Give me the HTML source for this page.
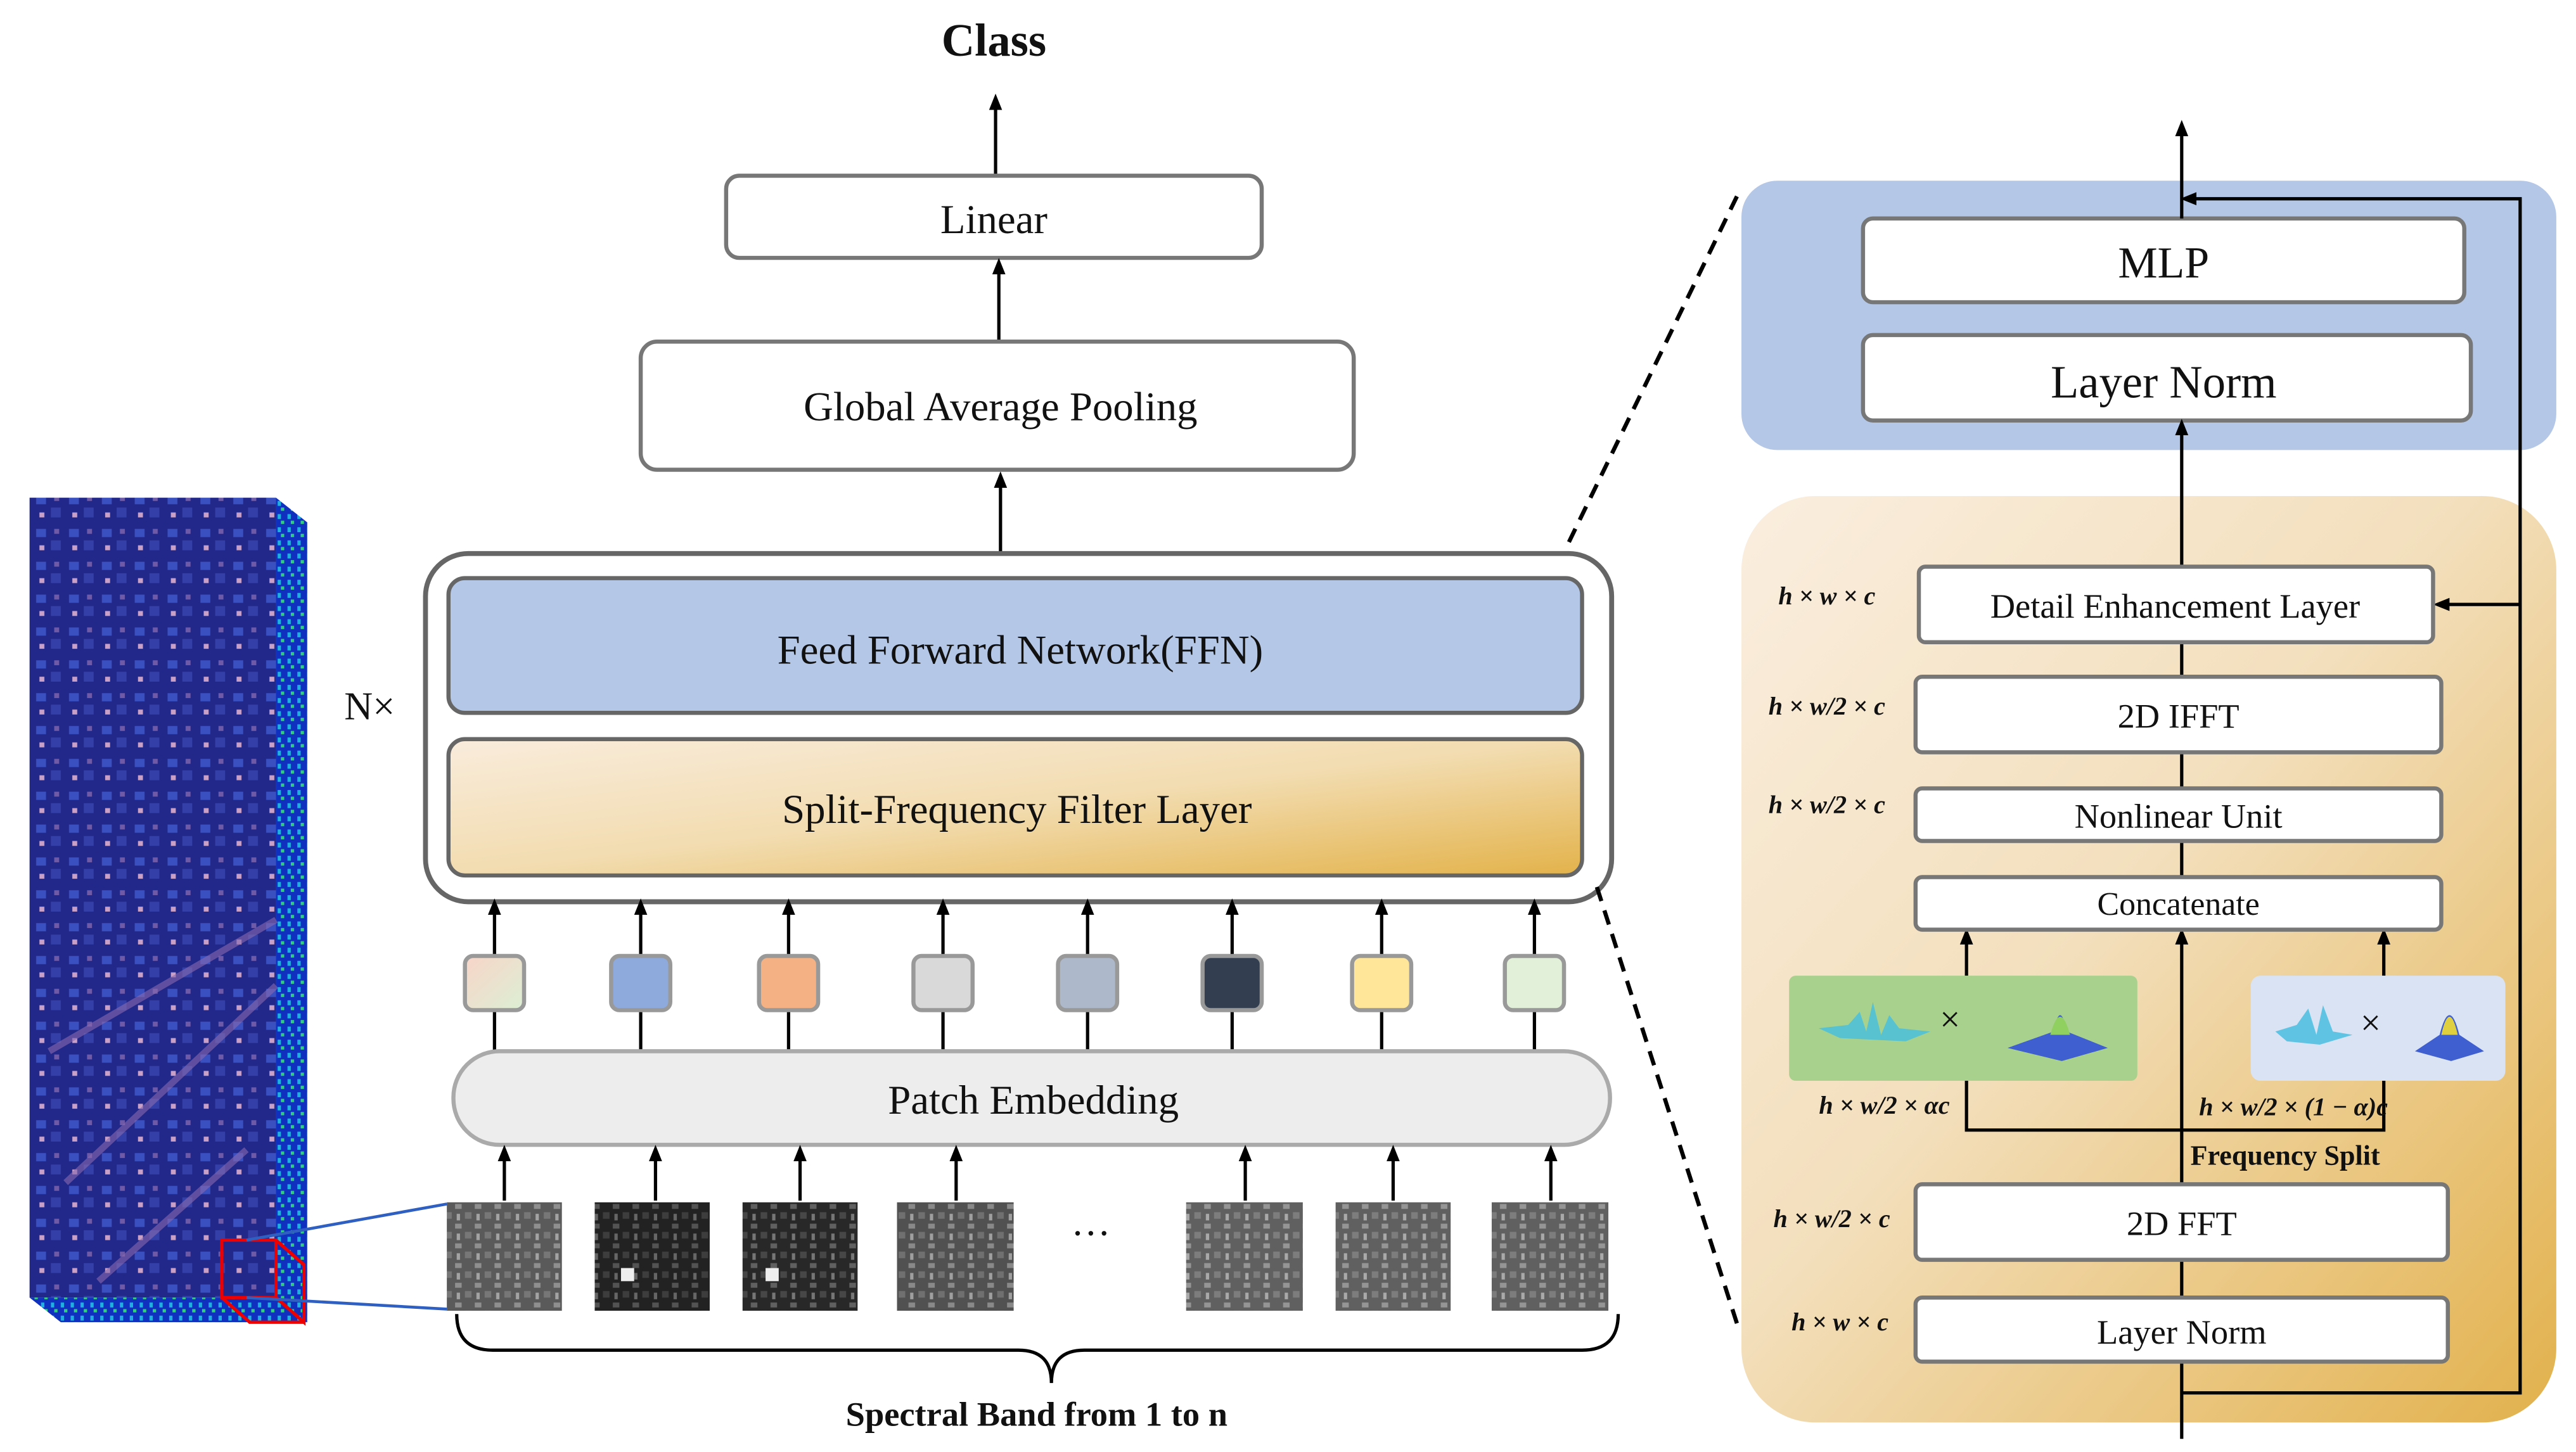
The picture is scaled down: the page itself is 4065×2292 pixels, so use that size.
<!DOCTYPE html>
<html><head><meta charset="utf-8"><style>
html,body{margin:0;padding:0;background:#fff}
svg{display:block}
text{font-family:"Liberation Serif",serif;fill:#111}
</style></head><body>
<svg width="4065" height="2292" viewBox="0 0 1568 884" preserveAspectRatio="none" xmlns="http://www.w3.org/2000/svg">
<defs>
<marker id="ah" markerWidth="10" markerHeight="10" refX="5" refY="5" orient="auto" markerUnits="userSpaceOnUse" viewBox="0 0 10 10">
<path d="M0,1 L10,5 L0,9 z" fill="#000"/></marker>
<linearGradient id="tan" x1="0" y1="0" x2="1" y2="1"><stop offset="0" stop-color="#f9ecdc"/><stop offset="0.5" stop-color="#f2dcb0"/><stop offset="1" stop-color="#e3b24a"/></linearGradient>
<linearGradient id="tan2" x1="0" y1="0" x2="1" y2="1"><stop offset="0" stop-color="#faeedf"/><stop offset="0.45" stop-color="#f3dfbc"/><stop offset="1" stop-color="#e2b14c"/></linearGradient>
<linearGradient id="sq1" x1="0" y1="0" x2="1" y2="1"><stop offset="0" stop-color="#f8d5c8"/><stop offset="1" stop-color="#dcefd4"/></linearGradient>
<pattern id="tile" width="12" height="12" patternUnits="userSpaceOnUse"><rect width="12" height="12" fill="#3a3a3a"/><rect x="1" y="1" width="4" height="3" fill="#8a8a8a"/><rect x="7" y="6" width="4" height="4" fill="#666"/><rect x="2" y="7" width="2" height="4" fill="#aaa"/></pattern>
<pattern id="city" width="20" height="20" patternUnits="userSpaceOnUse"><rect width="20" height="20" fill="#22288a"/><rect x="2" y="2" width="6" height="5" fill="#3a4fc0"/><rect x="11" y="9" width="6" height="6" fill="#3440a8"/><rect x="4" y="12" width="3" height="3" fill="#c9a0c8"/><rect x="13" y="2" width="3" height="3" fill="#6f5aa8"/></pattern>
<pattern id="side" width="6" height="8" patternUnits="userSpaceOnUse"><rect width="6" height="8" fill="#1030c0"/><rect x="1" y="1" width="2" height="3" fill="#20b0e0"/><rect x="3" y="5" width="2" height="2" fill="#30d080"/></pattern>
</defs>

<!-- Left cube -->
<rect x="18" y="303" width="150" height="487" fill="url(#city)"/>
<path d="M168,303 L187,318 L187,805 L168,790 Z" fill="url(#side)"/>
<path d="M18,790 L168,790 L187,805 L37,805 Z" fill="url(#side)"/>
<path d="M30,640 L168,560 M40,720 L168,600 M60,780 L150,700" stroke="#8a6ab0" stroke-width="4" opacity="0.6"/>
<rect x="135" y="755" width="33" height="35" fill="none" stroke="#e00" stroke-width="2"/>
<path d="M168,755 L185,770 L185,805 L168,790 M135,790 L152,805 L185,805" fill="none" stroke="#e00" stroke-width="2"/>
<line x1="150" y1="755" x2="272" y2="733" stroke="#2f5fc0" stroke-width="1.8"/>
<line x1="150" y1="790" x2="272" y2="797" stroke="#2f5fc0" stroke-width="1.8"/>

<!-- Class / top stack -->
<text x="605" y="34" font-size="28" font-weight="bold" text-anchor="middle">Class</text>
<line x1="606" y1="106" x2="606" y2="62" stroke="#000" stroke-width="2" marker-end="url(#ah)"/>
<rect x="442" y="107" width="326" height="50" rx="8" fill="#fff" stroke="#777" stroke-width="2.5"/>
<text x="605" y="142" font-size="25" text-anchor="middle">Linear</text>
<line x1="608" y1="207" x2="608" y2="162" stroke="#000" stroke-width="2" marker-end="url(#ah)"/>
<rect x="390" y="208" width="434" height="78" rx="10" fill="#fff" stroke="#777" stroke-width="2.5"/>
<text x="609" y="256" font-size="25" text-anchor="middle">Global Average Pooling</text>
<line x1="609" y1="337" x2="609" y2="292" stroke="#000" stroke-width="2" marker-end="url(#ah)"/>

<rect x="259" y="337" width="722" height="212" rx="26" fill="#fff" stroke="#666" stroke-width="3"/>
<rect x="273" y="352" width="690" height="82" rx="10" fill="#b4c7e7" stroke="#666" stroke-width="2.5"/>
<text x="621" y="404" font-size="25" text-anchor="middle">Feed Forward Network(FFN)</text>
<rect x="273" y="450" width="690" height="83" rx="10" fill="url(#tan)" stroke="#666" stroke-width="2.5"/>
<text x="619" y="501" font-size="25" text-anchor="middle">Split-Frequency Filter Layer</text>
<text x="225" y="438" font-size="24" text-anchor="middle">N×</text>

<!-- small squares -->
<g stroke="#000" stroke-width="2">
<line x1="301" y1="582" x2="301" y2="552" marker-end="url(#ah)"/><line x1="301" y1="615" x2="301" y2="640"/>
<line x1="390" y1="582" x2="390" y2="552" marker-end="url(#ah)"/><line x1="390" y1="615" x2="390" y2="640"/>
<line x1="480" y1="582" x2="480" y2="552" marker-end="url(#ah)"/><line x1="480" y1="615" x2="480" y2="640"/>
<line x1="574" y1="582" x2="574" y2="552" marker-end="url(#ah)"/><line x1="574" y1="615" x2="574" y2="640"/>
<line x1="662" y1="582" x2="662" y2="552" marker-end="url(#ah)"/><line x1="662" y1="615" x2="662" y2="640"/>
<line x1="750" y1="582" x2="750" y2="552" marker-end="url(#ah)"/><line x1="750" y1="615" x2="750" y2="640"/>
<line x1="841" y1="582" x2="841" y2="552" marker-end="url(#ah)"/><line x1="841" y1="615" x2="841" y2="640"/>
<line x1="934" y1="582" x2="934" y2="552" marker-end="url(#ah)"/><line x1="934" y1="615" x2="934" y2="640"/>
</g>
<g stroke="#999" stroke-width="2.5">
<rect x="283" y="582" width="36" height="33" rx="5" fill="url(#sq1)"/>
<rect x="372" y="582" width="36" height="33" rx="5" fill="#8eaadc"/>
<rect x="462" y="582" width="36" height="33" rx="5" fill="#f4b183"/>
<rect x="556" y="582" width="36" height="33" rx="5" fill="#d9d9d9"/>
<rect x="644" y="582" width="36" height="33" rx="5" fill="#adb9ca"/>
<rect x="732" y="582" width="36" height="33" rx="5" fill="#333f50"/>
<rect x="823" y="582" width="36" height="33" rx="5" fill="#ffe699"/>
<rect x="916" y="582" width="36" height="33" rx="5" fill="#e2efd9"/>
</g>

<rect x="276" y="640" width="704" height="57" rx="28" fill="#ededed" stroke="#aaa" stroke-width="2.5"/>
<text x="629" y="678" font-size="25" text-anchor="middle">Patch Embedding</text>

<g stroke="#000" stroke-width="2">
<line x1="307" y1="731" x2="307" y2="702" marker-end="url(#ah)"/>
<line x1="399" y1="731" x2="399" y2="702" marker-end="url(#ah)"/>
<line x1="487" y1="731" x2="487" y2="702" marker-end="url(#ah)"/>
<line x1="582" y1="731" x2="582" y2="702" marker-end="url(#ah)"/>
<line x1="758" y1="731" x2="758" y2="702" marker-end="url(#ah)"/>
<line x1="848" y1="731" x2="848" y2="702" marker-end="url(#ah)"/>
<line x1="944" y1="731" x2="944" y2="702" marker-end="url(#ah)"/>
</g>
<g>
<rect x="272" y="732" width="70" height="66" fill="url(#tile)"/><rect x="272" y="732" width="70" height="66" fill="#999" opacity="0.35"/>
<rect x="362" y="732" width="70" height="66" fill="url(#tile)"/><rect x="362" y="732" width="70" height="66" fill="#000" opacity="0.4"/><rect x="378" y="772" width="8" height="8" fill="#eee"/>
<rect x="452" y="732" width="70" height="66" fill="url(#tile)"/><rect x="452" y="732" width="70" height="66" fill="#000" opacity="0.3"/><rect x="466" y="772" width="8" height="8" fill="#eee"/>
<rect x="546" y="732" width="71" height="66" fill="url(#tile)"/><rect x="546" y="732" width="71" height="66" fill="#888" opacity="0.3"/>
<rect x="722" y="732" width="71" height="66" fill="url(#tile)"/><rect x="722" y="732" width="71" height="66" fill="#aaa" opacity="0.35"/>
<rect x="813" y="732" width="70" height="66" fill="url(#tile)"/><rect x="813" y="732" width="70" height="66" fill="#aaa" opacity="0.35"/>
<rect x="908" y="732" width="71" height="66" fill="url(#tile)"/><rect x="908" y="732" width="71" height="66" fill="#aaa" opacity="0.35"/>
</g>
<text x="664" y="752" font-size="24" text-anchor="middle">…</text>
<path d="M278,800 Q278,822 300,822 L620,822 Q640,822 640,842 Q640,822 660,822 L963,822 Q985,822 985,800" fill="none" stroke="#000" stroke-width="2"/>
<text x="631" y="868" font-size="21" font-weight="bold" text-anchor="middle">Spectral Band from 1 to n</text>

<!-- dashed lines -->
<line x1="955" y1="330" x2="1058" y2="118" stroke="#000" stroke-width="2.5" stroke-dasharray="9,6"/>
<line x1="972" y1="540" x2="1058" y2="808" stroke="#000" stroke-width="2.5" stroke-dasharray="9,6"/>

<!-- right panel -->
<rect x="1060" y="110" width="496" height="164" rx="22" fill="#b4c7e7"/>
<rect x="1060" y="302" width="496" height="564" rx="45" fill="url(#tan2)"/>
<rect x="1134" y="133" width="366" height="51" rx="6" fill="#fff" stroke="#777" stroke-width="2.5"/>
<text x="1317" y="169" font-size="27" text-anchor="middle">MLP</text>
<rect x="1134" y="204" width="370" height="52" rx="6" fill="#fff" stroke="#777" stroke-width="2.5"/>
<text x="1317" y="242" font-size="28" text-anchor="middle">Layer Norm</text>

<g stroke="#000" stroke-width="2" fill="none">
<line x1="1328" y1="133" x2="1328" y2="78" marker-end="url(#ah)"/>
<line x1="1328" y1="345" x2="1328" y2="260" marker-end="url(#ah)"/>
<polyline points="1328,848 1534,848 1534,121 1332,121" marker-end="url(#ah)"/>
<line x1="1534" y1="368" x2="1486" y2="368" marker-end="url(#ah)"/>
<line x1="1328" y1="876" x2="1328" y2="570" marker-end="url(#ah)"/>
<line x1="1328" y1="391" x2="1328" y2="412"/>
<line x1="1328" y1="458" x2="1328" y2="480"/>
<line x1="1328" y1="512" x2="1328" y2="534"/>
<line x1="1197" y1="594" x2="1197" y2="570" marker-end="url(#ah)"/>
<line x1="1451" y1="594" x2="1451" y2="570" marker-end="url(#ah)"/>
<polyline points="1197,658 1197,688 1451,688 1451,658"/>
</g>
<g fill="#fff" stroke="#777" stroke-width="2.5">
<rect x="1168" y="345" width="313" height="46" rx="4"/>
<rect x="1166" y="412" width="320" height="46" rx="4"/>
<rect x="1166" y="480" width="320" height="32" rx="4"/>
<rect x="1166" y="534" width="320" height="32" rx="4"/>
<rect x="1166" y="721" width="324" height="46" rx="4"/>
<rect x="1166" y="790" width="324" height="39" rx="4"/>
</g>
<text x="1324" y="376" font-size="21" text-anchor="middle">Detail Enhancement Layer</text>
<text x="1326" y="443" font-size="21" text-anchor="middle">2D IFFT</text>
<text x="1326" y="504" font-size="21" text-anchor="middle">Nonlinear Unit</text>
<text x="1326" y="557" font-size="20" text-anchor="middle">Concatenate</text>
<text x="1328" y="752" font-size="21" text-anchor="middle">2D FFT</text>
<text x="1328" y="818" font-size="21" text-anchor="middle">Layer Norm</text>

<rect x="1089" y="594" width="212" height="64" rx="4" fill="#a9d18e"/>
<rect x="1370" y="594" width="155" height="64" rx="6" fill="#dae3f3"/>
<g>
<path d="M1107,626 L1125,624 L1132,616 L1136,628 L1140,610 L1145,630 L1150,618 L1156,626 L1175,628 L1160,634 L1120,632 Z" fill="#4fc0d8" opacity="0.9"/>
<text x="1187" y="628" font-size="22" text-anchor="middle">×</text>
<path d="M1222,638 L1250,628 Q1254,608 1258,628 L1283,638 L1255,646 Z" fill="#3f5fd0"/>
<path d="M1248,630 Q1254,608 1260,630 Z" fill="#8fd060"/>
<path d="M1385,628 L1398,624 L1405,614 L1410,630 L1414,612 L1420,628 L1432,630 L1412,636 L1392,634 Z" fill="#5fc4e4"/>
<text x="1443" y="630" font-size="22" text-anchor="middle">×</text>
<path d="M1470,640 L1485,630 Q1491,606 1497,630 L1512,640 L1492,646 Z" fill="#3f5fd0"/>
<path d="M1486,630 Q1491,608 1496,630 Z" fill="#e0d040"/>
</g>

<g font-size="15.5" font-style="italic" font-weight="bold">
<text x="1112" y="368" text-anchor="middle">h × w × c</text>
<text x="1112" y="435" text-anchor="middle">h × w/2 × c</text>
<text x="1112" y="495" text-anchor="middle">h × w/2 × c</text>
<text x="1147" y="678" text-anchor="middle">h × w/2 × αc</text>
<text x="1396" y="679" text-anchor="middle">h × w/2 × (1 − α)c</text>
<text x="1115" y="747" text-anchor="middle">h × w/2 × c</text>
<text x="1120" y="810" text-anchor="middle">h × w × c</text>
</g>
<text x="1391" y="709" font-size="17" font-weight="bold" text-anchor="middle">Frequency Split</text>
</svg>
</body></html>
